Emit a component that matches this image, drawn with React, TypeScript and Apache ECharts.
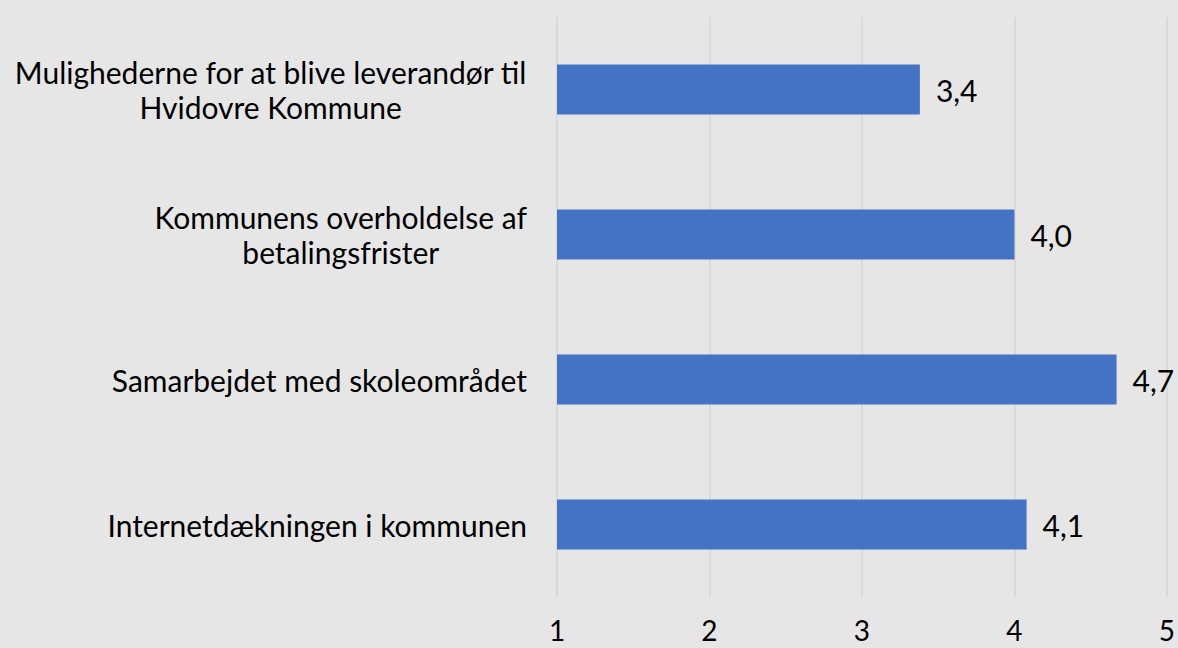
import React, { useEffect, useRef } from "react";
import * as echarts from "echarts";

const categories = [
  "Mulighederne for at blive leverandør til\nHvidovre Kommune",
  "Kommunens overholdelse af\nbetalingsfrister",
  "Samarbejdet med skoleområdet",
  "Internetdækningen i kommunen",
];
const values = [3.38, 4.0, 4.67, 4.08];
const xTicks = [1, 2, 3, 4, 5];

const FONT = "Lato";
const FS = 30;

export default function App() {
  const ref = useRef<HTMLDivElement>(null);
  useEffect(() => {
    if (!ref.current) return;
    const chart = echarts.init(ref.current, undefined, { renderer: "svg" });
    chart.setOption({
      animation: false,
      backgroundColor: "#E7E6E6",
      grid: { left: 557, right: 9, top: 17, bottom: 51, containLabel: false },
      xAxis: {
        type: "value",
        min: xTicks[0],
        max: xTicks[xTicks.length - 1],
        interval: 1,
        axisLine: { show: false },
        axisTick: { show: false },
        splitLine: { show: true, lineStyle: { color: "#D4D4D4", width: 1.5 } },
        axisLabel: {
          color: "#000",
          fontFamily: FONT,
          fontSize: 28,
          lineHeight: 28,
          margin: 19,
          formatter: (v: number) => String(v),
        },
      },
      yAxis: {
        type: "category",
        data: categories,
        inverse: true,
        axisLine: { show: false },
        axisTick: { show: false },
        axisLabel: {
          margin: 30,
          color: "#000",
          fontFamily: FONT,
          fontSize: FS,
          lineHeight: 35,
          formatter: (v: string) =>
            v
              .split("\n")
              .map((l) => `{c|${l}}`)
              .join("\n"),
          rich: {
            c: {
              align: "center",
              fontFamily: FONT,
              fontSize: FS,
              lineHeight: 35,
              color: "#000",
            },
          },
        },
      },
      series: [
        {
          type: "bar",
          data: values,
          barWidth: 50,
          itemStyle: { color: "#4472C4" },
          label: {
            show: true,
            position: "right",
            distance: 16,
            color: "#000",
            fontFamily: FONT,
            fontSize: FS,
            formatter: (p: any) => p.value.toFixed(1).replace(".", ","),
          },
        },
      ],
    });
    return () => chart.dispose();
  }, []);
  return (
    <div
      ref={ref}
      style={{ position: "fixed", left: 0, top: 0, width: 1178, height: 648 }}
    />
  );
}
